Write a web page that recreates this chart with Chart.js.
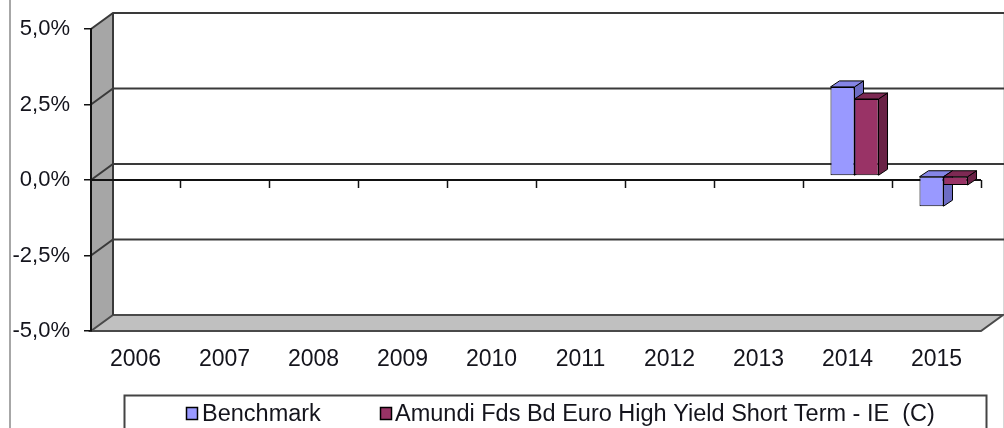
<!DOCTYPE html>
<html><head><meta charset="utf-8">
<script src="https://cdn.jsdelivr.net/npm/chart.js@4"></script>
<style>html,body{margin:0;padding:0;background:#fff}canvas{display:block}</style>
</head><body>
<canvas id="c" width="1004" height="428"></canvas>
<script>
const years = ['2006','2007','2008','2009','2010','2011','2012','2013','2014','2015'];
const benchmark = [null,null,null,null,null,null,null,null,2.95,-1.0];
const fund = [null,null,null,null,null,null,null,null,2.55,-0.3];
const yTicks = [-5,-2.5,0,2.5,5];
const seriesNames = ['Benchmark','Amundi Fds Bd Euro High Yield Short Term - IE  (C)'];

const FONT = "'Liberation Sans', Arial, sans-serif";
const TEXT = '#14141c';
const DX = 22, DY = -16;   // wall depth
const BDX = 7, BDY = -4;   // bar row position inside the depth
const SDX = 9, SDY = -6;   // bar thickness
const faces = [
  {front:'#9999ff', side:'#6c6cc4', top:'#8585e6'},
  {front:'#993366', side:'#6a2246', top:'#7d2953'}
];
const fmt = v => v.toFixed(1).replace('.', ',') + '%';

const wallPlugin = {
  id: 'walls',
  beforeDraw(chart) {
    const {ctx, chartArea: a, scales: {y}} = chart;
    const yt = y.getPixelForValue(5), yb = y.getPixelForValue(-5), y0 = y.getPixelForValue(0);
    ctx.save();
    // outer border
    ctx.strokeStyle = '#8a8a8a'; ctx.lineWidth = 1.5;
    ctx.beginPath(); ctx.moveTo(10, 0); ctx.lineTo(10, 428); ctx.stroke();
    ctx.strokeStyle = '#d8d8d8'; ctx.lineWidth = 1;
    ctx.beginPath(); ctx.moveTo(1003.5, 12); ctx.lineTo(1003.5, 428); ctx.stroke();
    // left wall
    ctx.fillStyle = '#a6a6a6';
    ctx.beginPath();
    ctx.moveTo(a.left, yt); ctx.lineTo(a.left + DX, yt + DY);
    ctx.lineTo(a.left + DX, yb + DY); ctx.lineTo(a.left, yb); ctx.closePath(); ctx.fill();
    // floor
    ctx.fillStyle = '#c0c0c0';
    ctx.beginPath();
    ctx.moveTo(a.left, yb); ctx.lineTo(a.left + DX, yb + DY);
    ctx.lineTo(a.right + DX, yb + DY); ctx.lineTo(a.right, yb); ctx.closePath(); ctx.fill();
    ctx.strokeStyle = '#4a4a4a'; ctx.lineWidth = 2; ctx.stroke();
    // back gridlines
    ctx.strokeStyle = '#3a3a3a'; ctx.lineWidth = 2;
    yTicks.forEach(v => {
      if (v === -5) return;
      const py = y.getPixelForValue(v);
      ctx.beginPath(); ctx.moveTo(a.left, py); ctx.lineTo(a.left + DX, py + DY);
      ctx.lineTo(a.right + DX + 6, py + DY); ctx.stroke();
    });
    // back wall left edge
    ctx.beginPath(); ctx.moveTo(a.left + DX, yt + DY); ctx.lineTo(a.left + DX, yb + DY); ctx.stroke();
    // front zero axis with ticks
    ctx.strokeStyle = '#111'; ctx.lineWidth = 2;
    ctx.beginPath(); ctx.moveTo(a.left, y0); ctx.lineTo(a.right, y0); ctx.stroke();
    ctx.lineWidth = 1.5;
    const n = years.length;
    for (let i = 1; i <= n; i++) {
      const px = Math.round(a.left + i * (a.right - a.left) / n) + 0.5;
      ctx.beginPath(); ctx.moveTo(px, y0); ctx.lineTo(px, y0 + 8); ctx.stroke();
    }
    ctx.restore();
  },
  beforeDatasetDraw() { return false; },
  afterDatasetsDraw(chart) {
    const ctx = chart.ctx;
    const vals = [benchmark, fund];
    for (let d = 0; d < 2; d++) {
      const meta = chart.getDatasetMeta(d);
      ctx.save();
      ctx.translate(BDX, BDY);
      meta.controller.draw();
      ctx.lineWidth = 1; ctx.strokeStyle = '#000'; ctx.lineJoin = 'round';
      meta.data.forEach((el, i) => {
        if (vals[d][i] === null) return;
        const p = el.getProps(['x', 'y', 'base', 'width'], true);
        const l = p.x - p.width / 2, r = p.x + p.width / 2;
        const t = Math.min(p.y, p.base), b = Math.max(p.y, p.base);
        ctx.fillStyle = faces[d].side;
        ctx.beginPath(); ctx.moveTo(r, t); ctx.lineTo(r + SDX, t + SDY);
        ctx.lineTo(r + SDX, b + SDY); ctx.lineTo(r, b); ctx.closePath(); ctx.fill(); ctx.stroke();
        ctx.fillStyle = faces[d].top;
        ctx.beginPath(); ctx.moveTo(l, t); ctx.lineTo(l + SDX, t + SDY);
        ctx.lineTo(r + SDX, t + SDY); ctx.lineTo(r, t); ctx.closePath(); ctx.fill(); ctx.stroke();
      });
      ctx.restore();
    }
  },
  afterDraw(chart) {
    const ctx = chart.ctx;
    ctx.save();
    ctx.strokeStyle = '#444'; ctx.lineWidth = 2;
    ctx.strokeRect(124.5, 395.5, 862, 60);
    ctx.font = '23.5px ' + FONT;
    ctx.textBaseline = 'alphabetic';
    const items = [{sq: 186, tx: 202}, {sq: 380, tx: 395}];
    items.forEach((it, i) => {
      ctx.fillStyle = faces[i].front;
      ctx.fillRect(it.sq + 0.5, 407.5, 11, 12);
      ctx.strokeStyle = '#000'; ctx.lineWidth = 1.5;
      ctx.strokeRect(it.sq + 0.5, 407.5, 11, 12);
      ctx.fillStyle = TEXT;
      ctx.fillText(seriesNames[i], it.tx, 421);
    });
    ctx.restore();
  }
};

new Chart(document.getElementById('c'), {
  type: 'bar',
  data: {
    labels: years,
    datasets: [
      {label: seriesNames[0], data: benchmark, backgroundColor: faces[0].front, borderColor: '#000', borderWidth: 1, borderSkipped: false},
      {label: seriesNames[1], data: fund, backgroundColor: faces[1].front, borderColor: '#000', borderWidth: 1, borderSkipped: false}
    ]
  },
  options: {
    responsive: false,
    animation: false,
    events: [],
    layout: {padding: {left: 0, right: 23, top: 29, bottom: 0}},
    datasets: {bar: {categoryPercentage: 0.54, barPercentage: 1, clip: false}},
    plugins: {legend: {display: false}, tooltip: {enabled: false}},
    scales: {
      x: {
        grid: {display: false, drawTicks: false},
        border: {display: false},
        ticks: {font: {family: FONT, size: 23}, color: TEXT, padding: 15, maxRotation: 0, autoSkip: false},
        afterFit(s) { s.height = 97; }
      },
      y: {
        min: -5, max: 5,
        afterBuildTicks(s) { s.ticks = yTicks.map(v => ({value: v})); },
        grid: {drawOnChartArea: false, drawTicks: true, tickLength: 7, color: '#111', lineWidth: 1.5},
        border: {display: true, color: '#111', width: 2},
        ticks: {font: {family: FONT, size: 22}, color: TEXT, padding: 14, callback: v => fmt(v)},
        afterFit(s) { s.width = 91; }
      }
    }
  },
  plugins: [wallPlugin]
});
</script>
</body></html>
